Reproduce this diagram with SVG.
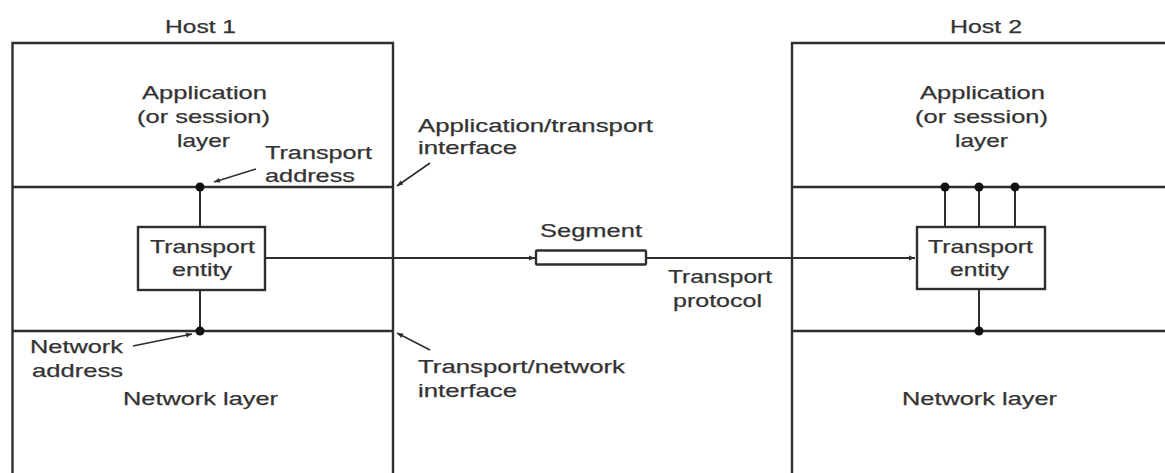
<svg xmlns="http://www.w3.org/2000/svg" width="1165" height="473" viewBox="0 0 1165 473">
<style>
.frame{fill:none;stroke:#2e2e2e;stroke-width:2.4}
.box{fill:#fff;stroke:#2e2e2e;stroke-width:2.4}
.wire{fill:none;stroke:#2e2e2e;stroke-width:2}
.ann{fill:none;stroke:#2e2e2e;stroke-width:1.6}
.dot{fill:#111}
text{font-family:"Liberation Sans",Arial,sans-serif;font-size:19px;fill:#333;stroke:#333;stroke-width:0.25}
</style>
<defs>
<marker id="ah" viewBox="0 0 10 10" refX="10" refY="5" markerWidth="8" markerHeight="6" markerUnits="userSpaceOnUse" orient="auto">
<path d="M0,1 L10,5 L0,9 z" fill="#2e2e2e"/>
</marker>
<marker id="sh" viewBox="0 0 10 10" refX="10" refY="5" markerWidth="9" markerHeight="6" markerUnits="userSpaceOnUse" orient="auto">
<path d="M0,1 L10,5 L0,9 z" fill="#2e2e2e"/>
</marker>
</defs>
<rect width="1165" height="473" fill="#fff"/>

<g id="host1">
<path class="frame" d="M12.5,476 V43 H393 V476"/>
<line class="frame" x1="12.5" y1="187" x2="393" y2="187"/>
<line class="frame" x1="12.5" y1="331" x2="393" y2="331"/>
<text x="165" y="33" textLength="71" lengthAdjust="spacingAndGlyphs">Host 1</text>
<text x="142" y="99" textLength="125" lengthAdjust="spacingAndGlyphs">Application</text>
<text x="137" y="123" textLength="133" lengthAdjust="spacingAndGlyphs">(or session)</text>
<text x="177" y="147" textLength="53" lengthAdjust="spacingAndGlyphs">layer</text>
<text x="123" y="405" textLength="155" lengthAdjust="spacingAndGlyphs">Network layer</text>
</g>

<g id="host2">
<path class="frame" d="M792,476 V43 H1168"/>
<line class="frame" x1="792" y1="187" x2="1168" y2="187"/>
<line class="frame" x1="792" y1="331" x2="1168" y2="331"/>
<text x="950" y="33" textLength="72" lengthAdjust="spacingAndGlyphs">Host 2</text>
<text x="920" y="99" textLength="125" lengthAdjust="spacingAndGlyphs">Application</text>
<text x="915" y="123" textLength="133" lengthAdjust="spacingAndGlyphs">(or session)</text>
<text x="955" y="147" textLength="53" lengthAdjust="spacingAndGlyphs">layer</text>
<text x="902" y="405" textLength="155" lengthAdjust="spacingAndGlyphs">Network layer</text>
</g>

<g id="connectors">
<line class="wire" x1="200" y1="187" x2="200" y2="227"/>
<line class="wire" x1="200" y1="290" x2="200" y2="331"/>
<line class="wire" x1="945" y1="187" x2="945" y2="227"/>
<line class="wire" x1="979" y1="187" x2="979" y2="227"/>
<line class="wire" x1="1015" y1="187" x2="1015" y2="227"/>
<line class="wire" x1="979" y1="289" x2="979" y2="331"/>
<line class="wire" x1="265" y1="258" x2="535" y2="258" marker-end="url(#sh)"/>
<line class="wire" x1="646" y1="258" x2="915" y2="258" marker-end="url(#sh)"/>
<line class="ann" x1="256" y1="169" x2="214" y2="182" marker-end="url(#ah)"/>
<line class="ann" x1="430" y1="163" x2="397" y2="186" marker-end="url(#ah)"/>
<line class="ann" x1="430" y1="350" x2="397" y2="333" marker-end="url(#ah)"/>
<line class="ann" x1="133" y1="346" x2="192" y2="334" marker-end="url(#ah)"/>
<circle class="dot" cx="200" cy="187" r="4.5"/>
<circle class="dot" cx="200" cy="331" r="4.5"/>
<circle class="dot" cx="945" cy="187" r="4.5"/>
<circle class="dot" cx="979" cy="187" r="4.5"/>
<circle class="dot" cx="1015" cy="187" r="4.5"/>
<circle class="dot" cx="979" cy="331" r="4.5"/>
</g>

<g id="entity1">
<rect class="box" x="138" y="227" width="127" height="63"/>
<text x="150" y="253" textLength="105" lengthAdjust="spacingAndGlyphs">Transport</text>
<text x="172" y="276" textLength="60" lengthAdjust="spacingAndGlyphs">entity</text>
</g>

<g id="entity2">
<rect class="box" x="917" y="227" width="128" height="62"/>
<text x="928" y="253" textLength="105" lengthAdjust="spacingAndGlyphs">Transport</text>
<text x="950" y="276" textLength="59" lengthAdjust="spacingAndGlyphs">entity</text>
</g>

<g id="segment">
<rect class="box" x="536" y="250.5" width="110" height="14" rx="1"/>
<text x="540" y="237" textLength="102" lengthAdjust="spacingAndGlyphs">Segment</text>
</g>

<g id="labels">
<text x="265" y="159" textLength="107" lengthAdjust="spacingAndGlyphs">Transport</text>
<text x="265" y="182" textLength="90" lengthAdjust="spacingAndGlyphs">address</text>
<text x="30" y="353" textLength="93" lengthAdjust="spacingAndGlyphs">Network</text>
<text x="32" y="377" textLength="91" lengthAdjust="spacingAndGlyphs">address</text>
<text x="418" y="132" textLength="235" lengthAdjust="spacingAndGlyphs">Application/transport</text>
<text x="418" y="154" textLength="99" lengthAdjust="spacingAndGlyphs">interface</text>
<text x="418" y="373" textLength="207" lengthAdjust="spacingAndGlyphs">Transport/network</text>
<text x="418" y="397" textLength="99" lengthAdjust="spacingAndGlyphs">interface</text>
<text x="668" y="283" textLength="104" lengthAdjust="spacingAndGlyphs">Transport</text>
<text x="673" y="307" textLength="89" lengthAdjust="spacingAndGlyphs">protocol</text>
</g>
</svg>
